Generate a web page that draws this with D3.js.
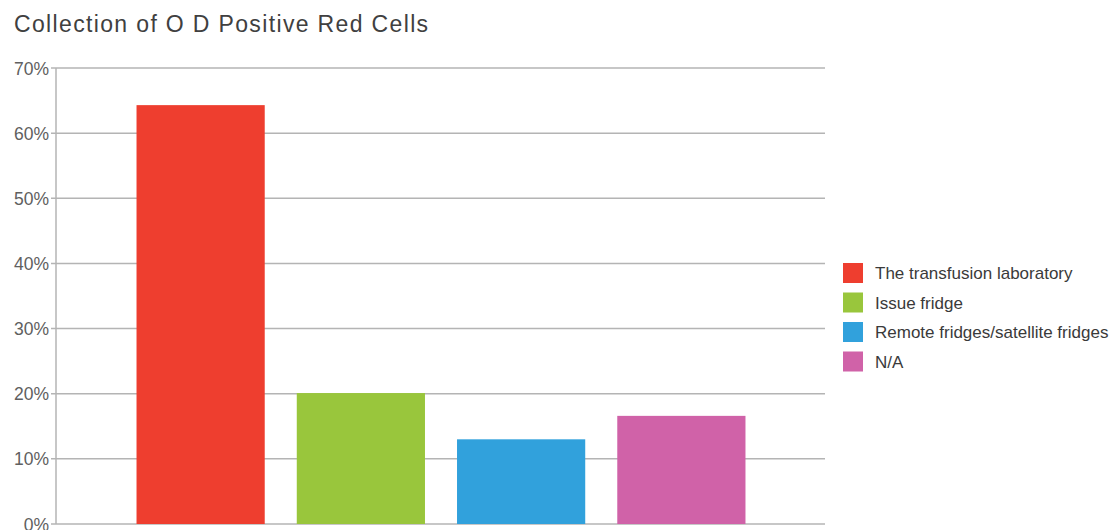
<!DOCTYPE html>
<html>
<head>
<meta charset="utf-8">
<script src="https://cdn.jsdelivr.net/npm/d3@7"></script>
<style>
  body { margin: 0; background: #fff; }
  text { font-family: "Liberation Sans", Arial, sans-serif; }
</style>
</head>
<body>
<script>
var width = 1119;
var height = 530;

var categories = ['The transfusion laboratory', 'Issue fridge', 'Remote fridges/satellite fridges', 'N/A'];
var values = [64.3, 20.1, 13.0, 16.6];
var colors = ['#ee3e2f', '#99c63c', '#31a1dc', '#d062a8'];
var yTicks = [0, 10, 20, 30, 40, 50, 60, 70];

var svg = d3.select('body').append('svg')
  .attr('width', width).attr('height', height);

svg.append('text')
  .attr('x', 14).attr('y', 32)
  .style('font-size', '23px').style('letter-spacing', '1.35px').style('fill', '#404040')
  .text('Collection of O D Positive Red Cells');

var plotLeft = 56, plotRight = 825, plotTop = 68, plotBottom = 524;

var y = d3.scaleLinear().domain([0, 70]).range([plotBottom, plotTop]);
var x = d3.scaleBand().domain(categories)
  .range([120.5, 761.5]).paddingInner(0.2).paddingOuter(0.1);

// grid
svg.append('g').selectAll('line').data(yTicks).enter().append('line')
  .attr('x1', plotLeft - 5).attr('x2', plotRight)
  .attr('y1', function(d) { return y(d); })
  .attr('y2', function(d) { return y(d); })
  .style('stroke', '#b4b4b4').style('stroke-width', 1.5);

svg.append('line')
  .attr('x1', plotLeft).attr('x2', plotLeft).attr('y1', plotTop).attr('y2', plotBottom)
  .style('stroke', '#b4b4b4').style('stroke-width', 1.5);

svg.append('g').selectAll('text').data(yTicks).enter().append('text')
  .attr('x', plotLeft - 7)
  .attr('y', function(d) { return y(d) + 6.5; })
  .attr('text-anchor', 'end')
  .style('font-size', '17.5px').style('fill', '#606060')
  .text(function(d) { return d + '%'; });

// bars
svg.append('g').selectAll('rect').data(values).enter().append('rect')
  .attr('x', function(d, i) { return x(categories[i]); })
  .attr('width', x.bandwidth())
  .attr('y', function(d) { return y(d); })
  .attr('height', function(d) { return plotBottom - y(d); })
  .style('fill', function(d, i) { return colors[i]; });

// legend
var legend = svg.append('g').selectAll('g').data(categories).enter().append('g')
  .attr('transform', function(d, i) { return 'translate(843,' + (263 + i * 29.5) + ')'; });

legend.append('rect')
  .attr('width', 20).attr('height', 20)
  .style('fill', function(d, i) { return colors[i]; });

legend.append('text')
  .attr('x', 32).attr('y', 16)
  .style('font-size', '17px').style('fill', '#3a3a3a')
  .text(function(d) { return d; });
</script>
</body>
</html>
